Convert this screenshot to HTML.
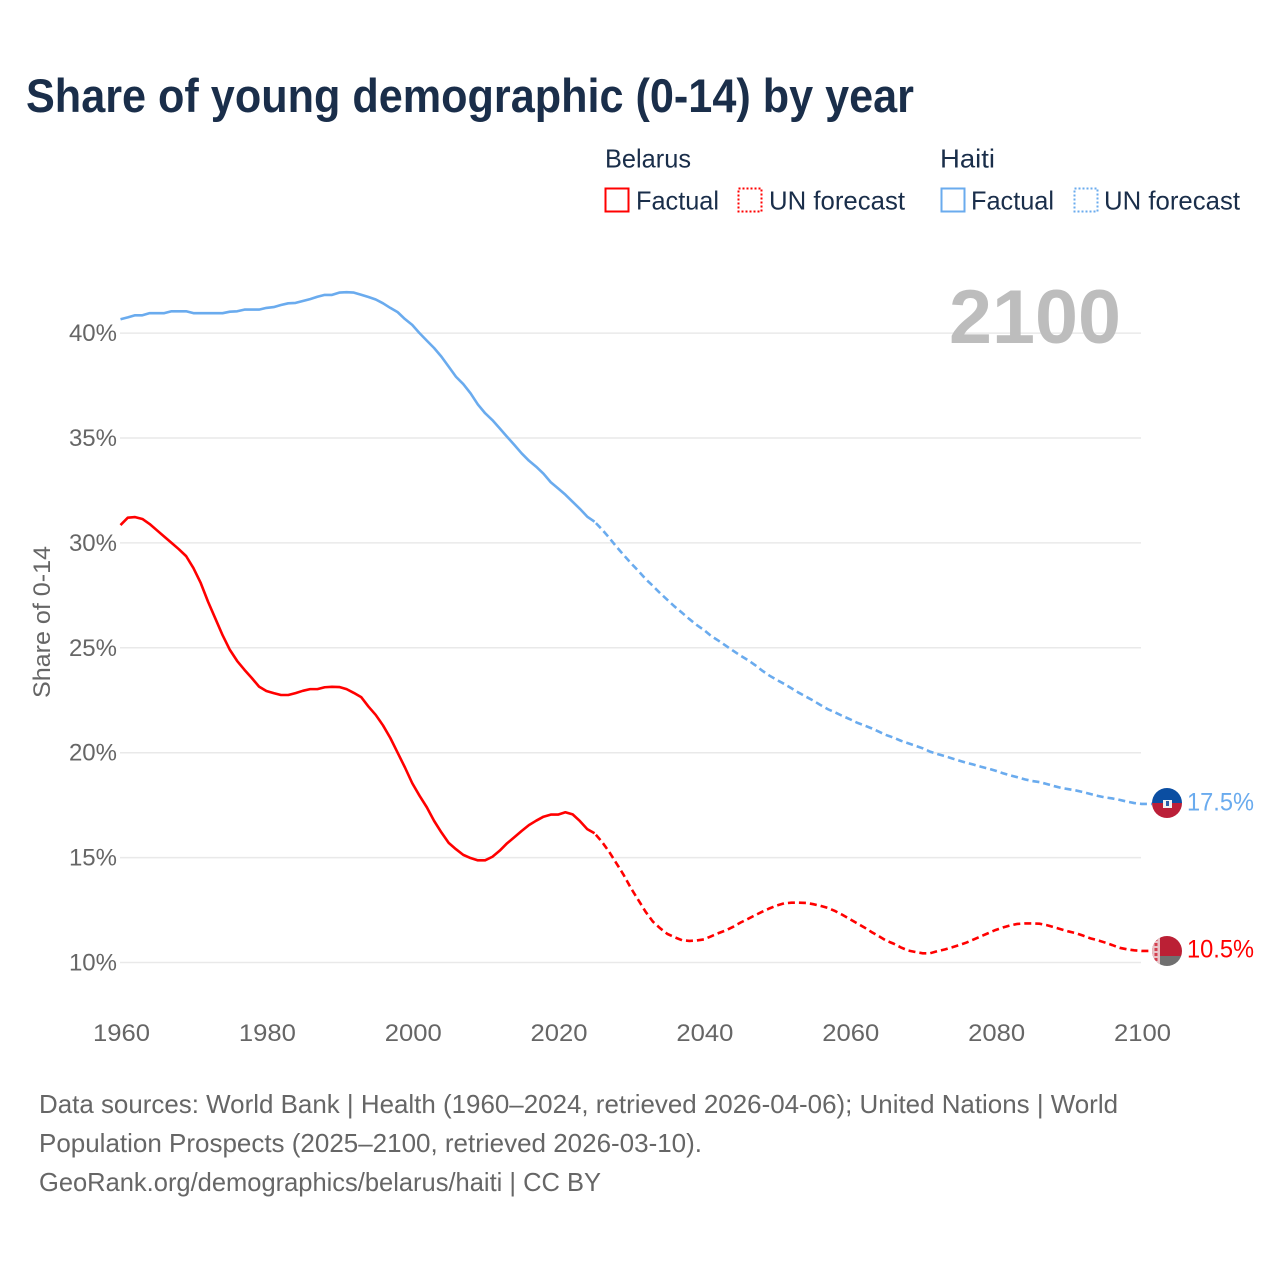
<!DOCTYPE html>
<html lang="en">
<head>
<meta charset="utf-8">
<title>Share of young demographic (0-14) by year</title>
<style>
html,body{margin:0;padding:0;background:#fff;width:1280px;height:1280px;overflow:hidden}
svg{display:block;font-family:"Liberation Sans",sans-serif}
</style>
</head>
<body>
<svg id="chart" width="1280" height="1280" viewBox="0 0 1280 1280" xmlns="http://www.w3.org/2000/svg">
<defs>
<clipPath id="flag-clip-haiti"><circle cx="1167" cy="803" r="15"/></clipPath>
<clipPath id="flag-clip-belarus"><circle cx="1167" cy="951" r="15"/></clipPath>
</defs>
<rect width="1280" height="1280" fill="#fff"/>
<text x="26" y="112" font-size="47" font-weight="700" fill="#1a2e4a" textLength="888" lengthAdjust="spacingAndGlyphs">Share of young demographic (0-14) by year</text>

<g font-size="26" fill="#1a2e4a">
<text x="605" y="167.5" textLength="86" lengthAdjust="spacingAndGlyphs">Belarus</text>
<text x="940" y="167.5" textLength="55" lengthAdjust="spacingAndGlyphs">Haiti</text>
<rect x="605.5" y="188.5" width="23" height="23" fill="none" stroke="#ff0000" stroke-width="2"/>
<text x="636" y="209.5" textLength="83" lengthAdjust="spacingAndGlyphs">Factual</text>
<rect x="738.5" y="188.5" width="23" height="23" fill="none" stroke="#ff0000" stroke-width="2" stroke-dasharray="2 2"/>
<text x="769" y="209.5" textLength="136" lengthAdjust="spacingAndGlyphs">UN forecast</text>
<rect x="941.5" y="188.5" width="23" height="23" fill="none" stroke="#6aabee" stroke-width="2"/>
<text x="971" y="209.5" textLength="83" lengthAdjust="spacingAndGlyphs">Factual</text>
<rect x="1074.5" y="188.5" width="23" height="23" fill="none" stroke="#6aabee" stroke-width="2" stroke-dasharray="2 2"/>
<text x="1104" y="209.5" textLength="136" lengthAdjust="spacingAndGlyphs">UN forecast</text>
</g>

<g id="grid"></g>
<text x="949" y="343" font-size="76" font-weight="700" fill="#bdbdbd" textLength="172" lengthAdjust="spacingAndGlyphs">2100</text>
<g id="y-axis"></g>
<g id="x-axis"></g>
<text transform="translate(50,622) rotate(-90)" text-anchor="middle" font-size="24" fill="#666" textLength="152" lengthAdjust="spacingAndGlyphs">Share of 0-14</text>
<g id="series"></g>

<g clip-path="url(#flag-clip-haiti)">
<rect x="1152" y="788" width="30" height="15" fill="#0b4ea2"/>
<rect x="1152" y="803" width="30" height="15" fill="#bb1f38"/>
<rect x="1163" y="800" width="9" height="8" fill="#f2f2f2"/>
<rect x="1166" y="801" width="3" height="5" fill="#2c5fa8"/>
</g>
<g clip-path="url(#flag-clip-belarus)">
<rect x="1152" y="936" width="30" height="20" fill="#bb2035"/>
<rect x="1152" y="956" width="30" height="10" fill="#707070"/>
<rect x="1152" y="936" width="8" height="30" fill="#e8c4c8"/>
<path d="M1156 938v26" stroke="#d4404f" stroke-width="3" stroke-dasharray="3 2" fill="none"/>
</g>

<g id="end-labels"></g>

<g font-size="26" fill="#666">
<text x="39" y="1113" textLength="1079" lengthAdjust="spacingAndGlyphs">Data sources: World Bank | Health (1960–2024, retrieved 2026-04-06); United Nations | World</text>
<text x="39" y="1152" textLength="663" lengthAdjust="spacingAndGlyphs">Population Prospects (2025–2100, retrieved 2026-03-10).</text>
<text x="39" y="1191" textLength="562" lengthAdjust="spacingAndGlyphs">GeoRank.org/demographics/belarus/haiti | CC BY</text>
</g>
</svg>
<script>
const yTicks = [10, 15, 20, 25, 30, 35, 40];
const xTicks = [1960, 1980, 2000, 2020, 2040, 2060, 2080, 2100];
const factualStartYear = 1960;
const forecastStartYear = 2025;
const belarusFactual = [30.85,31.2,31.23,31.14,30.9,30.6,30.3,30.0,29.7,29.37,28.8,28.09,27.2,26.4,25.6,24.9,24.37,23.95,23.56,23.15,22.94,22.84,22.75,22.75,22.84,22.95,23.03,23.03,23.12,23.14,23.13,23.03,22.85,22.65,22.2,21.8,21.3,20.7,20.0,19.3,18.55,17.95,17.4,16.75,16.2,15.7,15.4,15.13,14.98,14.87,14.87,15.04,15.33,15.68,15.97,16.27,16.55,16.76,16.95,17.05,17.05,17.16,17.06,16.74,16.36,16.16];
const belarusForecast = [16.16,15.76,15.28,14.73,14.17,13.54,12.98,12.42,11.95,11.63,11.36,11.2,11.06,11.03,11.05,11.1,11.25,11.4,11.53,11.7,11.9,12.07,12.25,12.42,12.58,12.72,12.82,12.85,12.85,12.84,12.78,12.7,12.6,12.45,12.27,12.07,11.87,11.67,11.45,11.25,11.04,10.9,10.72,10.57,10.5,10.44,10.44,10.54,10.62,10.72,10.83,10.95,11.1,11.25,11.4,11.55,11.67,11.77,11.84,11.86,11.86,11.85,11.78,11.68,11.58,11.48,11.4,11.28,11.15,11.06,10.95,10.83,10.7,10.63,10.58,10.55];
const haitiFactual = [40.66,40.75,40.85,40.85,40.95,40.95,40.95,41.04,41.04,41.04,40.95,40.95,40.95,40.95,40.95,41.02,41.04,41.12,41.12,41.12,41.2,41.24,41.34,41.42,41.44,41.53,41.62,41.73,41.82,41.82,41.93,41.95,41.93,41.83,41.72,41.6,41.42,41.2,41.0,40.67,40.39,40.0,39.64,39.29,38.88,38.4,37.92,37.57,37.13,36.6,36.18,35.85,35.46,35.06,34.67,34.27,33.92,33.63,33.3,32.89,32.6,32.3,31.96,31.62,31.25,31.01];
const haitiForecast = [31.01,30.65,30.25,29.82,29.42,29.03,28.67,28.28,27.95,27.6,27.28,26.96,26.67,26.37,26.09,25.85,25.56,25.34,25.1,24.86,24.63,24.42,24.18,23.91,23.67,23.47,23.28,23.07,22.86,22.67,22.48,22.27,22.07,21.92,21.75,21.6,21.43,21.3,21.16,21.0,20.84,20.72,20.57,20.45,20.33,20.21,20.05,19.94,19.84,19.73,19.62,19.52,19.43,19.33,19.24,19.14,19.02,18.92,18.83,18.73,18.65,18.6,18.51,18.41,18.32,18.26,18.2,18.12,18.03,17.94,17.87,17.82,17.75,17.67,17.6,17.56];
const endLabels = ["17.5%", "10.5%"];

const SVG_NS = "http://www.w3.org/2000/svg";
const BELARUS_COLOR = "#ff0000";
const HAITI_COLOR = "#6aabee";

function xScale(year) { return 120.5 + (year - 1960) * (1021 / 140); }
function yScale(value) { return 962.5 - (value - 10) * 20.98; }

function make(tag, parent, attrs) {
  const el = document.createElementNS(SVG_NS, tag);
  Object.keys(attrs).forEach(function (k) { el.setAttribute(k, attrs[k]); });
  parent.appendChild(el);
  return el;
}

const gridLayer = document.getElementById("grid");
const yLayer = document.getElementById("y-axis");
yTicks.forEach(function (t) {
  const line = make("line", gridLayer, { x1: 120, x2: 1141, y1: yScale(t), y2: yScale(t), stroke: "#e9e9e9", "stroke-width": 1.5 });
  
  
  const label = make("text", yLayer, { x: 117, y: yScale(t) + 8, "text-anchor": "end", "font-size": 24, fill: "#666" });
  
  
  label.textContent = t + "%";
});

const xLayer = document.getElementById("x-axis");
xTicks.forEach(function (t) {
  const label = make("text", xLayer, { x: xScale(t) + 1, y: 1041, "text-anchor": "middle", "font-size": 24, fill: "#666", textLength: 57, lengthAdjust: "spacingAndGlyphs" });
  
  
  label.textContent = t;
});

function pathFrom(values, startYear) {
  return values.map(function (v, i) {
    return (i ? "L" : "M") + xScale(startYear + i).toFixed(2) + " " + yScale(v).toFixed(2);
  }).join("");
}

const seriesLayer = document.getElementById("series");

const belarusFactualLine = make("path", seriesLayer, { d: pathFrom(belarusFactual, factualStartYear), fill: "none", stroke: BELARUS_COLOR, "stroke-width": 2.6, "stroke-linejoin": "round" });



const belarusForecastLine = make("path", seriesLayer, { d: pathFrom(belarusForecast, forecastStartYear) + "H1152", fill: "none", stroke: BELARUS_COLOR, "stroke-width": 2.6, "stroke-dasharray": "7 4", "stroke-dashoffset": -2 });



const haitiFactualLine = make("path", seriesLayer, { d: pathFrom(haitiFactual, factualStartYear), fill: "none", stroke: HAITI_COLOR, "stroke-width": 2.6, "stroke-linejoin": "round" });



const haitiForecastLine = make("path", seriesLayer, { d: pathFrom(haitiForecast, forecastStartYear) + "H1152", fill: "none", stroke: HAITI_COLOR, "stroke-width": 2.6, "stroke-dasharray": "7 4", "stroke-dashoffset": -2 });



const endLayer = document.getElementById("end-labels");
const haitiEnd = make("text", endLayer, { x: 1187, y: yScale(haitiForecast[haitiForecast.length - 1]) + 6.5, "font-size": 25, fill: HAITI_COLOR, textLength: 67, lengthAdjust: "spacingAndGlyphs" });


haitiEnd.textContent = endLabels[0];

const belarusEnd = make("text", endLayer, { x: 1187, y: yScale(belarusForecast[belarusForecast.length - 1]) + 6.5, "font-size": 25, fill: BELARUS_COLOR, textLength: 67, lengthAdjust: "spacingAndGlyphs" });


belarusEnd.textContent = endLabels[1];
</script>
</body>
</html>
